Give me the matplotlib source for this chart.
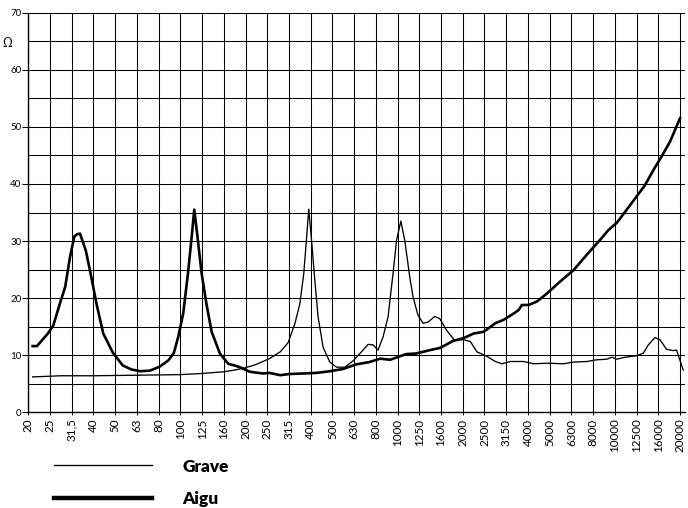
import matplotlib
matplotlib.use("Agg")
import matplotlib.pyplot as plt
from matplotlib.lines import Line2D

categories = ["20", "25", "31,5", "40", "50", "63", "80", "100", "125", "160", "200",
              "250", "315", "400", "500", "630", "800", "1000", "1250", "1600", "2000",
              "2500", "3150", "4000", "5000", "6300", "8000", "10000", "12500", "16000", "20000"]

# positions expressed in third-octave band index (0 = 20 Hz ... 30 = 20000 Hz)
aigu_pos = [0.2, 0.4, 0.9, 1.15, 1.45, 1.7, 1.92, 2.12, 2.25, 2.38, 2.65, 2.9, 3.14, 3.45,
            3.9, 4.35, 4.75, 5.15, 5.6, 6.05, 6.45, 6.7, 6.9, 7.13, 7.35, 7.52, 7.64, 7.79,
            7.98, 8.2, 8.44, 8.82, 9.2, 9.5, 9.74, 10.2, 10.8, 11.1, 11.6, 12.0, 12.65,
            13.25, 13.9, 14.5, 15.1, 15.7, 16.2, 16.65, 17.4, 17.85, 18.5, 18.97, 19.55,
            20.04, 20.5, 20.96, 21.5, 21.88, 22.26, 22.57, 22.72, 23.03, 23.41, 23.87,
            24.48, 25.1, 25.71, 26.32, 26.7, 27.09, 27.47, 28.0, 28.39, 28.77, 29.15,
            29.54, 30.0]
aigu_ohm = [11.6, 11.6, 13.8, 15.2, 19.0, 22.0, 27.2, 30.8, 31.2, 31.3, 28.3, 23.7, 19.0, 13.8,
            10.4, 8.2, 7.5, 7.2, 7.3, 8.0, 9.1, 10.4, 13.2, 17.3, 24.3, 30.7, 35.5, 30.7,
            24.3, 19.0, 14.1, 10.3, 8.5, 8.2, 7.9, 7.1, 6.8, 6.9, 6.5, 6.7, 6.8,
            6.9, 7.2, 7.6, 8.4, 8.8, 9.4, 9.2, 10.2, 10.3, 10.9, 11.3, 12.5,
            13.0, 13.8, 14.1, 15.6, 16.2, 17.1, 17.9, 18.8, 18.8, 19.4, 20.8,
            22.9, 24.9, 27.6, 30.2, 31.9, 33.2, 35.1, 37.8, 39.8, 42.4, 44.8,
            47.4, 51.5]

grave_pos = [0.2, 1.5, 3.0, 5.0, 7.0, 8.0, 9.0, 9.5, 10.0, 10.5, 11.1, 11.6, 11.96, 12.27,
             12.5, 12.68, 12.8, 12.91, 13.04, 13.19, 13.34, 13.57, 13.88, 14.19, 14.57,
             14.95, 15.34, 15.64, 15.87, 16.1, 16.33, 16.56, 16.79, 16.95, 17.15, 17.33,
             17.56, 17.71, 17.94, 18.17, 18.4, 18.71, 18.94, 19.25, 19.6, 20.04, 20.35,
             20.65, 21.11, 21.5, 21.8, 22.19, 22.8, 23.26, 23.87, 24.64, 25.1, 25.71,
             26.17, 26.63, 26.86, 27.09, 27.47, 28.0, 28.31, 28.54, 28.85, 29.08, 29.38,
             29.69, 29.84, 30.15]
grave_ohm = [6.2, 6.4, 6.4, 6.5, 6.6, 6.8, 7.1, 7.4, 7.8, 8.4, 9.4, 10.6, 12.2, 15.5,
             19.0, 24.3, 30.1, 35.6, 30.1, 23.1, 16.7, 11.4, 8.8, 7.9, 7.9,
             9.0, 10.6, 11.9, 11.8, 10.9, 13.2, 16.7, 24.3, 30.1, 33.5, 30.1,
             23.7, 20.2, 17.0, 15.6, 15.8, 16.8, 16.4, 14.4, 12.7, 12.7, 12.4,
             10.6, 9.8, 8.9, 8.5, 8.9, 8.9, 8.5, 8.6, 8.5, 8.8, 8.9,
             9.2, 9.3, 9.65, 9.3, 9.65, 9.9, 10.35, 11.8, 13.1, 12.7, 11.05,
             10.8, 10.9, 7.4]

y_ticks = [0, 10, 20, 30, 40, 50, 60, 70]
series_names = ["Grave", "Aigu"]

plt.rcParams['font.family'] = ['Lato', 'DejaVu Sans']

fig = plt.figure(figsize=(6.88, 5.08), dpi=100)
ax = fig.add_axes([28.3 / 688, 1 - 412.3 / 508, (685 - 28.3) / 688, (412.3 - 12.7) / 508])

ax.set_xlim(0, 30.23)
ax.set_ylim(0, 70)

# grid
for i in range(len(categories)):
    ax.plot([i, i], [0, 70], color="black", lw=0.75, zorder=1, solid_capstyle="butt")
for v in range(0, 75, 5):
    ax.axhline(v, color="black", lw=0.75, zorder=1)

ax.plot(grave_pos, grave_ohm, color="black", lw=0.95, zorder=3, solid_joinstyle="round")
ax.plot(aigu_pos, aigu_ohm, color="black", lw=1.9, zorder=3, solid_joinstyle="round")

for s in ["top", "right"]:
    ax.spines[s].set_visible(False)
ax.spines["left"].set_linewidth(1.0)
ax.spines["bottom"].set_linewidth(1.0)

ax.set_xticks(range(len(categories)))
ax.set_xticklabels(categories, rotation=90, fontsize=8.4)
ax.set_yticks(y_ticks)
ax.set_yticklabels([str(v) for v in y_ticks], fontsize=7)
ax.tick_params(axis="x", length=2.5, width=0.75, pad=2)
ax.tick_params(axis="y", length=4, width=0.75, pad=1)

ax.text(-0.025, 64.6, "Ω", transform=ax.get_yaxis_transform(), ha="right", va="center",
        fontsize=8.5, family=["DejaVu Serif"])

# legend
handles = [Line2D([0], [0], color="black", lw=0.95), Line2D([0], [0], color="black", lw=3.2)]
leg = fig.legend(handles, series_names, loc="upper left", bbox_to_anchor=(38 / 688, 1 - 443 / 508),
                 frameon=False, handlelength=5.7, handletextpad=1.8, labelspacing=0.96,
                 prop={"family": "Lato", "weight": "heavy", "size": 12.4})

fig.savefig("out.png", dpi=100)
